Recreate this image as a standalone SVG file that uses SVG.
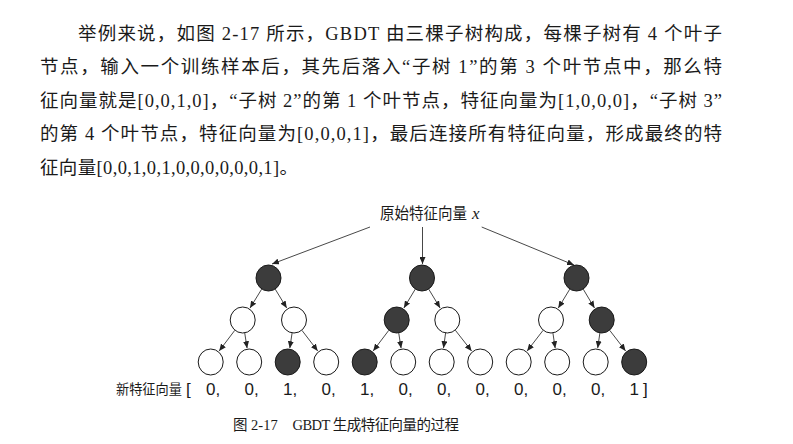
<svg xmlns="http://www.w3.org/2000/svg" width="793" height="444" viewBox="0 0 793 444">
<style>
.para{font-family:"Liberation Serif","Noto Sans CJK SC",serif;font-size:18.5px;fill:#1a1a1a}
.lbl{font-family:"Liberation Sans","Noto Sans CJK SC",sans-serif;fill:#1a1a1a}
.num{font-family:"Liberation Sans",sans-serif;font-size:17px;fill:#1a1a1a}
.cap{font-family:"Liberation Serif","Noto Sans CJK SC",serif;font-size:14.5px;fill:#1a1a1a}
.on{fill:#3c3c3c;stroke:#1a1a1a;stroke-width:1}
.off{fill:#fff;stroke:#1a1a1a;stroke-width:1}
.edge{stroke:#333;stroke-width:0.9;fill:none;marker-end:url(#arr)}
</style>
<defs>
<marker id="arr" markerUnits="userSpaceOnUse" markerWidth="7" markerHeight="6" refX="7" refY="3" orient="auto">
<path d="M0,0 L7,3 L0,6 z" fill="#222"/>
</marker>
</defs>
<rect width="793" height="444" fill="#fff"/>
<g id="paragraph">
<text class="para" x="78" y="39.5" textLength="644" lengthAdjust="spacing">举例来说，如图 2-17 所示，GBDT 由三棵子树构成，每棵子树有 4 个叶子</text>
<text class="para" x="40" y="73" textLength="682" lengthAdjust="spacing">节点，输入一个训练样本后，其先后落入“子树 1”的第 3 个叶节点中，那么特</text>
<text class="para" x="40" y="106.5" textLength="682" lengthAdjust="spacing">征向量就是[0,0,1,0]，“子树 2”的第 1 个叶节点，特征向量为[1,0,0,0]，“子树 3”</text>
<text class="para" x="40" y="140" textLength="682" lengthAdjust="spacing">的第 4 个叶节点，特征向量为[0,0,0,1]，最后连接所有特征向量，形成最终的特</text>
<text class="para" x="40" y="173.5" textLength="258" lengthAdjust="spacing">征向量[0,0,1,0,1,0,0,0,0,0,0,1]。</text>
</g>
<g id="input">
<text class="lbl" x="380" y="218.5" font-size="15.5" textLength="87" lengthAdjust="spacingAndGlyphs">原始特征向量</text>
<text x="472" y="218.5" font-family="Liberation Serif" font-style="italic" font-size="17" fill="#1a1a1a">x</text>
</g>
<g id="connectors">
<line class="edge" x1="370" y1="227" x2="272" y2="264"/>
<line class="edge" x1="422.5" y1="227" x2="422.5" y2="264"/>
<line class="edge" x1="481.7" y1="227" x2="574" y2="265"/>
<line class="edge" x1="261.7" y1="289.1" x2="250" y2="308.1"/>
<line class="edge" x1="275.2" y1="289.1" x2="286.7" y2="308"/>
<line class="edge" x1="234.8" y1="330.3" x2="219.2" y2="350.9"/>
<line class="edge" x1="244.7" y1="332.8" x2="247.1" y2="348.2"/>
<line class="edge" x1="292.1" y1="332.9" x2="289.8" y2="348.2"/>
<line class="edge" x1="301.9" y1="330.3" x2="317.7" y2="350.9"/>
<line class="edge" x1="415.3" y1="289.1" x2="403.9" y2="308"/>
<line class="edge" x1="428.7" y1="289.1" x2="440.1" y2="308"/>
<line class="edge" x1="388.8" y1="330.3" x2="373.2" y2="350.9"/>
<line class="edge" x1="398.7" y1="332.8" x2="401.1" y2="348.2"/>
<line class="edge" x1="445.6" y1="332.9" x2="443.5" y2="348.1"/>
<line class="edge" x1="455.3" y1="330.2" x2="471.6" y2="351"/>
<line class="edge" x1="569.8" y1="289.1" x2="558.3" y2="308"/>
<line class="edge" x1="583.2" y1="289.1" x2="594.5" y2="308"/>
<line class="edge" x1="543.1" y1="330.3" x2="527.2" y2="350.9"/>
<line class="edge" x1="552.9" y1="332.9" x2="555.2" y2="348.2"/>
<line class="edge" x1="599.9" y1="332.9" x2="597.7" y2="348.1"/>
<line class="edge" x1="609.7" y1="330.3" x2="625.6" y2="350.9"/>
</g>
<g id="tree1">
<ellipse id="t1-root" class="on" cx="268.5" cy="278" rx="12.5" ry="13"/>
<ellipse id="t1-a" class="off" cx="242.7" cy="320" rx="12.5" ry="13"/>
<ellipse id="t1-b" class="off" cx="294" cy="320" rx="12.5" ry="13"/>
<ellipse id="t1-l1" class="off" cx="210.7" cy="362" rx="12.5" ry="13"/>
<ellipse id="t1-l2" class="off" cx="249.2" cy="362" rx="12.5" ry="13"/>
<ellipse id="t1-l3" class="on" cx="287.7" cy="362" rx="12.5" ry="13"/>
<ellipse id="t1-l4" class="off" cx="326.2" cy="362" rx="12.5" ry="13"/>
</g>
<g id="tree2">
<ellipse id="t2-root" class="on" cx="422" cy="278" rx="12.5" ry="13"/>
<ellipse id="t2-a" class="on" cx="396.7" cy="320" rx="12.5" ry="13"/>
<ellipse id="t2-b" class="off" cx="447.3" cy="320" rx="12.5" ry="13"/>
<ellipse id="t2-l1" class="on" cx="364.7" cy="362" rx="12.5" ry="13"/>
<ellipse id="t2-l2" class="off" cx="403.2" cy="362" rx="12.5" ry="13"/>
<ellipse id="t2-l3" class="off" cx="441.7" cy="362" rx="12.5" ry="13"/>
<ellipse id="t2-l4" class="off" cx="480.2" cy="362" rx="12.5" ry="13"/>
</g>
<g id="tree3">
<ellipse id="t3-root" class="on" cx="576.5" cy="278" rx="12.5" ry="13"/>
<ellipse id="t3-a" class="off" cx="551" cy="320" rx="12.5" ry="13"/>
<ellipse id="t3-b" class="on" cx="601.7" cy="320" rx="12.5" ry="13"/>
<ellipse id="t3-l1" class="off" cx="518.7" cy="362" rx="12.5" ry="13"/>
<ellipse id="t3-l2" class="off" cx="557.2" cy="362" rx="12.5" ry="13"/>
<ellipse id="t3-l3" class="off" cx="595.7" cy="362" rx="12.5" ry="13"/>
<ellipse id="t3-l4" class="on" cx="634.2" cy="362" rx="12.5" ry="13"/>
</g>
<g id="vector">
<text class="lbl" x="116" y="394" font-size="13.2">新特征向量</text>
<text class="num" x="186" y="395">[</text>
<text class="num" x="206" y="395">0,</text>
<text class="num" x="244.5" y="395">0,</text>
<text class="num" x="283" y="395">1,</text>
<text class="num" x="321.5" y="395">0,</text>
<text class="num" x="360" y="395">1,</text>
<text class="num" x="398.5" y="395">0,</text>
<text class="num" x="437" y="395">0,</text>
<text class="num" x="475.5" y="395">0,</text>
<text class="num" x="514" y="395">0,</text>
<text class="num" x="552.5" y="395">0,</text>
<text class="num" x="591" y="395">0,</text>
<text class="num" x="629.5" y="395">1</text>
<text class="num" x="643" y="395">]</text>
</g>
<g id="caption">
<text class="cap" x="233" y="430">图 2-17</text>
<text class="cap" x="292.5" y="430" textLength="166.5" lengthAdjust="spacing">GBDT 生成特征向量的过程</text>
</g>
</svg>
